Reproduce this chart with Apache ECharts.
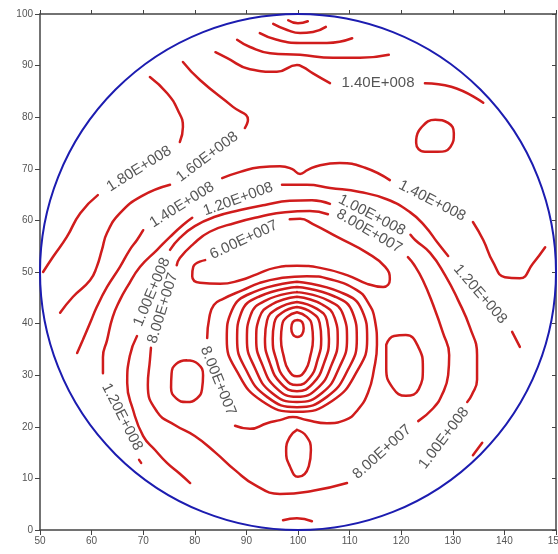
<!DOCTYPE html>
<html><head><meta charset="utf-8">
<script src="https://cdn.jsdelivr.net/npm/echarts@6/dist/echarts.min.js"></script>
<style>html,body{margin:0;padding:0;background:#fff}#c{width:558px;height:554px}</style>
</head><body><div id="c"></div>
<script>
// ---- axis ranges ----
const xRange = [50, 150, 10];
const yRange = [0, 100, 10];

// ---- boundary circle [cx, cy, r] in data units ----
const circle = [100, 50, 50];

// ---- contour polylines (data coordinates) ----
const arcA = [[98.1,98.8],[100,98.2],[101.9,98.6]];
const arcB = [[95.2,98.1],[97.9,96.9],[100.4,96.3],[102.9,96.5],[105.4,97.5]];
const arcC = [[92.6,96.3],[95.9,95.0],[100.4,94.4],[105.6,94.4],[110.5,95.3]];
const arcD = [[88.2,95.0],[90.7,93.6],[94.6,92.4],[100.4,92.1],[106.8,91.5],[112.0,91.5],[117.6,92.1]];
const c140TopL = [[84.0,92.6],[86.2,91.5],[90.7,89.3],[95.9,88.8],[99.8,90.1],[101.0,89.7],[102.9,88.5],[106.2,86.6]];
const c140TopR = [[124.6,86.6],[129.7,85.9],[135.9,82.8]];
const c180Up = [[71.3,87.8],[74.6,84.7],[76.7,81.4],[77.7,78.1],[77.1,75.2]];
const c180Low = [[61.2,64.9],[57.8,61.4],[55.2,56.8],[52.5,52.9],[50.6,50.0]];
const c160Up = [[77.7,90.7],[81.0,87.2],[87.4,82.0],[90.3,79.5],[89.7,77.9]];
const c160Low = [[75.2,66.9],[69.7,64.7],[65.5,61.4],[63.0,57.6],[62.0,54.3],[61.0,51.0],[59.7,48.4],[56.4,45.2],[53.9,42.1]];
const c140Up = [[85.3,68.2],[88.8,69.4],[92.6,70.3],[96.5,70.5],[98.8,70.0],[100.4,69.0],[101.9,69.8],[104.3,70.7],[108.1,71.1],[113.0,70.2],[117.8,67.8]];
const c140R = [[133.9,59.7],[135.9,56.2],[137.8,51.9],[140.1,49.0],[143.0,48.8],[145.5,51.6],[147.9,54.8]];
const c140Low = [[70.0,58.1],[68.8,56.2],[67.4,54.3],[65.5,51.0],[63.0,47.1],[61.0,43.2],[59.7,40.1],[58.3,36.8],[57.2,34.3]];
const c120L = [[62.2,30.4],[62.2,33.5],[63.0,36.8],[64.1,41.3],[65.5,44.6],[66.9,47.1],[69.4,51.0],[72.7,54.3],[75.2,56.8],[77.7,59.1],[79.5,60.5]];
const c120R = [[96.9,66.9],[101.7,66.9],[106.2,66.3],[112.0,65.5],[117.2,64.1],[121.7,61.6],[124.6,58.9],[127.1,55.6],[129.1,53.1]];
const c120Dash = [[141.5,38.4],[143.0,35.5]];
const c120Dot = [[69.2,13.6],[69.6,13.0]];
const c100Up = [[75.2,54.3],[77.1,56.6],[80.0,58.9],[83.9,60.7],[88.8,62.0],[93.6,63.0],[98.4,63.8],[102.7,63.9],[106.2,63.2]];
const c100Low = [[68.8,37.6],[67.4,33.7],[66.9,28.5],[68.0,23.4],[70.0,18.2],[72.3,15.5],[74.6,13.0],[77.1,10.9],[79.1,9.1]];
const c100R = [[121.8,57.2],[122.7,56.2],[125.6,53.7],[128.5,49.4],[131.0,44.6],[133.3,39.3],[134.7,33.9],[134.7,29.1],[133.7,26.2],[132.8,24.8]];
const c80Up = [[76.5,51.3],[77.1,52.7],[79.7,55.4],[82.9,57.8],[87.8,59.5],[92.6,60.7],[97.5,61.6],[102.3,61.8],[105.8,61.2]];
const c80R = [[121.3,52.9],[122.5,51.4],[124.2,48.4],[126.2,43.6],[128.1,38.2],[129.3,33.9],[129.1,30.0],[127.9,26.2],[126.2,23.6],[123.3,21.1]];
const c80Low = [[109.5,9.1],[102.9,7.6],[96.5,7.0],[91.7,8.7],[87.8,11.6],[83.9,15.1],[80.0,18.2],[76.2,20.3],[72.7,22.9],[70.9,28.1],[71.3,32.9],[71.5,35.3]];
const c80Inner = [[82.4,37.2],[82.8,41.1],[83.7,43.6],[85.5,44.8],[89.3,46.5],[92.6,47.9],[96.5,48.8],[101.7,49.2],[106.2,48.6],[111.4,46.5],[113.5,44.2],[114.9,40.7],[115.3,35.9],[114.7,31.0],[113.6,26.7],[111.6,23.3],[109.1,21.3],[105.6,20.7],[101.7,21.3],[99.0,21.9],[96.5,21.3],[94.0,20.7],[90.7,19.6],[87.8,20.2]];
const c60Loop = [[98.4,60.2],[100.4,60.3],[102.9,59.3],[107.6,56.8],[113.4,53.7],[116.9,51.0],[117.8,48.6],[116.5,47.1],[113.4,47.7],[109.5,49.4],[104.3,50.8],[99.8,51.2],[95.5,50.8],[92.1,49.6],[88.8,48.4],[84.9,47.7],[81.0,47.9],[79.5,49.2],[79.7,51.0],[82.0,52.3]];
const bottomDash = [[97.1,1.9],[99.8,2.3],[102.7,1.7]];
const brDash = [[133.9,14.5],[135.7,16.9]];

// ---- closed loops ----
const ring1 = [[99.8,48.1],[108.2,46.1],[112.4,42.6],[113.4,37.0],[111.4,30.7],[106.6,25.0],[99.8,22.9],[93.0,25.0],[88.2,30.7],[86.2,37.0],[87.2,42.6],[91.4,46.1],[99.8,48.1]];
const ring2 = [[99.8,47.1],[107.0,45.3],[110.6,42.1],[111.4,37.0],[109.7,31.1],[105.6,25.8],[99.8,23.8],[94.0,25.8],[89.9,31.1],[88.2,37.0],[89.0,42.1],[92.6,45.3],[99.8,47.1]];
const ring3 = [[99.8,46.1],[105.8,44.5],[108.8,41.6],[109.5,37.0],[108.0,31.5],[104.7,26.6],[99.8,24.8],[94.9,26.6],[91.6,31.5],[90.1,37.0],[90.8,41.6],[93.8,44.5],[99.8,46.1]];
const ring4 = [[99.8,45.2],[104.7,43.7],[107.1,41.1],[107.7,37.0],[106.5,32.0],[103.8,27.5],[99.8,25.8],[95.8,27.5],[93.1,32.0],[91.9,37.0],[92.5,41.1],[94.9,43.7],[99.8,45.2]];
const ring5 = [[99.8,44.2],[103.6,42.9],[105.6,40.6],[106.0,37.0],[105.1,32.5],[102.9,28.4],[99.8,26.9],[96.7,28.4],[94.5,32.5],[93.6,37.0],[94.0,40.6],[96.0,42.9],[99.8,44.2]];
const ring6 = [[99.8,43.2],[102.7,42.1],[104.2,40.1],[104.5,37.0],[103.8,33.0],[102.2,29.4],[99.8,28.1],[97.4,29.4],[95.8,33.0],[95.1,37.0],[95.4,40.1],[96.9,42.1],[99.8,43.2]];
const ring7 = [[99.8,42.2],[101.7,41.3],[102.7,39.6],[102.9,37.0],[102.4,33.8],[101.4,30.9],[99.8,29.8],[98.2,30.9],[97.2,33.8],[96.7,37.0],[96.9,39.6],[97.9,41.3],[99.8,42.2]];
const ringCore = [[99.9,40.7],[100.8,40.3],[101.1,39.1],[100.8,37.9],[99.9,37.4],[99.0,37.9],[98.7,39.1],[99.0,40.3],[99.9,40.7]];
const ovalLeft = [[78.4,32.9],[80.6,32.2],[81.6,30.0],[81.4,27.3],[80.4,25.5],[78.4,24.8],[76.4,25.5],[75.4,27.6],[75.5,30.3],[76.4,32.2],[78.4,32.9]];
const ovalRight = [[117.1,35.9],[118.6,37.6],[120.9,37.8],[123.3,35.5],[124.2,31.4],[123.4,27.3],[120.9,26.0],[118.4,27.5],[117.1,31.4],[117.1,35.9]];
const ovalBottom = [[99.8,19.4],[101.6,18.2],[102.5,15.5],[102.1,12.4],[100.0,10.3],[98.4,12.4],[97.7,15.3],[98.4,18.0],[99.8,19.4]];
const ovalTop = [[122.9,75.6],[123.8,77.9],[126.6,79.5],[129.1,78.9],[130.2,76.9],[129.5,74.2],[127.1,73.3],[124.6,73.3],[122.9,75.0],[122.9,75.6]];

// ---- contour labels ----
const labelText  = ['1.80E+008','1.60E+008','1.40E+008','1.20E+008','1.40E+008','1.40E+008','1.00E+008','8.00E+007','6.00E+007','1.20E+008','1.00E+008','8.00E+007','8.00E+007','1.20E+008','8.00E+007','1.00E+008'];
const labelX     = [69.2, 82.4, 77.5, 88.4, 115.5, 126.0, 114.3, 113.8, 89.5, 135.3, 71.7, 73.8, 84.5, 65.9, 116.3, 128.3];
const labelY     = [70.0, 72.3, 63.0, 64.1, 86.6, 63.8, 61.0, 57.9, 56.2, 45.7, 46.1, 43.0, 28.9, 21.9, 15.1, 17.8];
const labelAngle = [32, 37, 32, 20, 0, -27, -27, -30, 25, -49, 67, 73, -68, -63, 42, 53];

const RED = '#d01c1c', BLUE = '#1c1cb0', AXIS = '#444', TXT = '#555';
const openLines = [arcA,arcB,arcC,arcD,c140TopL,c140TopR,c180Up,c180Low,c160Up,c160Low,c140Up,c140R,c140Low,c120L,c120R,c120Dash,c120Dot,c100Up,c100Low,c100R,c80Up,c80R,c80Low,c80Inner,c60Loop,bottomDash,brDash];
const loops = [ring1,ring2,ring3,ring4,ring5,ring6,ring7,ringCore,ovalLeft,ovalRight,ovalBottom,ovalTop];

const series = [];
openLines.concat(loops).forEach(d => series.push({
  type:'line', data:d, smooth:0.5, showSymbol:false, silent:true, z:3,
  lineStyle:{color:RED, width:2.5, cap:'round'}
}));
series.push({
  type:'custom', silent:true, z:2, clip:false, data:[circle],
  renderItem:(params, api) => {
    const c = api.coord([api.value(0), api.value(1)]);
    const r = api.size([api.value(2), 0])[0];
    return {type:'circle', shape:{cx:c[0], cy:c[1], r:r}, style:{fill:'none', stroke:BLUE, lineWidth:2}};
  }
});
series.push({
  type:'scatter', symbolSize:0, silent:true, z:5,
  data: labelText.map((t,i) => ({value:[labelX[i], labelY[i]], label:{formatter:t, rotate:labelAngle[i]}})),
  label:{show:true, position:'inside', align:'center', verticalAlign:'middle', color:'#2a2a2a', fontSize:15, fontFamily:'Liberation Sans, Arial, sans-serif'}
});

const axisCommon = {
  type:'value', splitLine:{show:false},
  axisLine:{show:true, onZero:false, lineStyle:{color:AXIS, width:1.5}},
  axisTick:{show:true, length:5, lineStyle:{color:AXIS}},
  axisLabel:{color:TXT, fontSize:10, fontFamily:'Liberation Sans, Arial, sans-serif', hideOverlap:false}
};
const chart = echarts.init(document.getElementById('c'), null, {renderer:'canvas'});
chart.setOption({
  animation:false,
  grid:{left:40, right:2, top:14, bottom:24, containLabel:false, outerBoundsMode:'none'},
  xAxis:[
    Object.assign({}, axisCommon, {min:xRange[0], max:xRange[1], interval:xRange[2], position:'bottom', axisLabel:Object.assign({}, axisCommon.axisLabel, {margin:6})}),
    Object.assign({}, axisCommon, {min:xRange[0], max:xRange[1], interval:xRange[2], position:'top', axisLabel:{show:false}, axisTick:{show:true, length:4, lineStyle:{color:AXIS}}})
  ],
  yAxis:[
    Object.assign({}, axisCommon, {min:yRange[0], max:yRange[1], interval:yRange[2], position:'left', axisLabel:Object.assign({}, axisCommon.axisLabel, {margin:7})}),
    Object.assign({}, axisCommon, {min:yRange[0], max:yRange[1], interval:yRange[2], position:'right', axisLabel:{show:false}, axisTick:{show:true, inside:true, length:4, lineStyle:{color:AXIS}}})
  ],
  series: series
});
</script></body></html>
